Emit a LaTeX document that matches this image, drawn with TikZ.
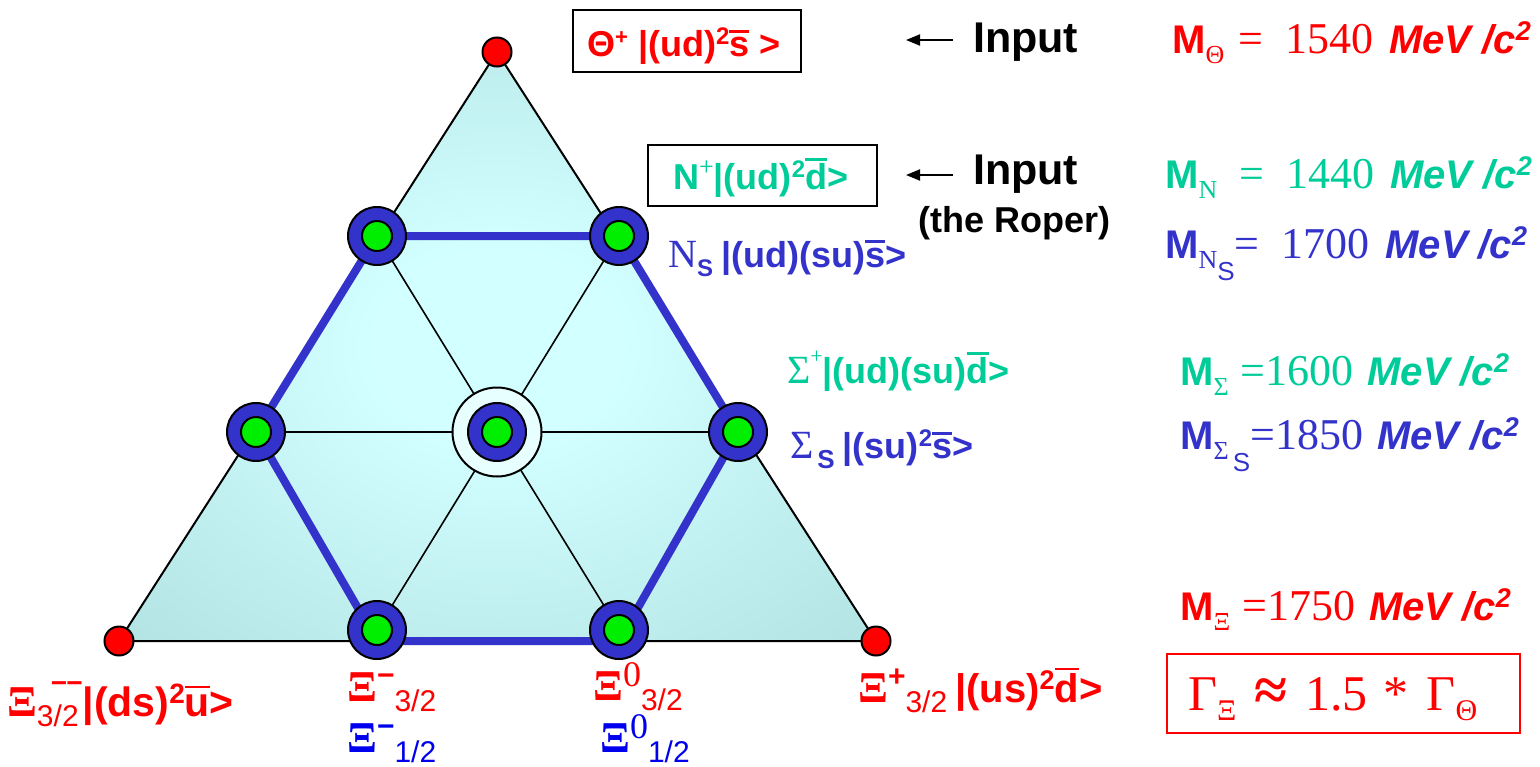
\documentclass[tikz,border=0pt]{standalone}
\usepackage{fontspec}
\setmainfont{Liberation Serif}
\newfontfamily\ar{Liberation Sans}
\newfontfamily\tm{Liberation Serif}
\usetikzlibrary{arrows.meta}
\definecolor{myred}{HTML}{FF0000}
\definecolor{myteal}{HTML}{00CC99}
\definecolor{myblue}{HTML}{3333CC}
\definecolor{pureblue}{HTML}{0000EE}
\definecolor{nodegreen}{HTML}{00EE00}
\definecolor{triin}{HTML}{D2FFFF}
\definecolor{trimid}{HTML}{B2E2E2}
\definecolor{triout}{HTML}{A6D8D8}
\definecolor{ringwhite}{HTML}{E8FFFF}
\newcommand\fs[1]{\fontsize{#1}{#1}\selectfont}
\newcommand\obar[2][3pt]{\vbox{\hrule height 2.5pt\kern#1\hbox{#2}}}
\newcommand\sqr[2]{\raisebox{#1}{\fs{#2}2}}
\pgfdeclareradialshading{trishade}{\pgfpoint{0bp}{0bp}}{color(0bp)=(triin); color(8bp)=(triin); color(36bp)=(trimid); color(50bp)=(triout)}
\begin{document}
\begin{tikzpicture}[x=1pt,y=-1pt,
  bnode/.style={circle,fill=myblue,draw=black,line width=2pt,minimum size=58pt,inner sep=0pt,
    path picture={\draw[fill=nodegreen,line width=2pt] (path picture bounding box.center) circle[radius=15pt];}},
  rdot/.style={circle,fill=myred,draw=black,line width=2pt,minimum size=29pt,inner sep=0pt},
  ringnode/.style={circle,fill=ringwhite,draw=black,line width=2pt,minimum size=89pt,inner sep=0pt},
  gridline/.style={line width=1.6pt,black},
  hexline/.style={line width=8pt,myblue,line join=round},
  lbl/.style={anchor=base west,inner sep=0pt},
  boxnode/.style={draw=black,line width=1.6pt,inner sep=0pt},
  arr/.style={line width=2pt,-{Triangle[length=14pt,width=11pt]}}]
\useasboundingbox (0,0) rectangle (1540,766);
\fill[white] (0,0) rectangle (1540,766);
% triangle
\coordinate (T) at (497,52);
\coordinate (L) at (119,641);
\coordinate (R) at (876,641);
\shade[shading=trishade] (T) -- (L) -- (R) -- cycle;
% grid
\coordinate (g11) at (377,236);
\coordinate (g12) at (619,236);
\coordinate (g21) at (256,432);
\coordinate (g22) at (497,432);
\coordinate (g23) at (738,432);
\coordinate (g31) at (377,630);
\coordinate (g32) at (619,630);
\coordinate (e31) at (377,641);
\coordinate (e32) at (619,641);
\draw[gridline] (g21) -- (g23);
\draw[gridline] (g11) -- (g32);
\draw[gridline] (g12) -- (g31);
\draw[line width=2pt] (T) -- (L) -- (R) -- cycle;
\draw[hexline] (g11) -- (g12) -- (g23) -- (e32) -- (e31) -- (g21) -- cycle;
% nodes
\node[ringnode] (ring) at (g22) {};
\node[bnode] (n11) at (g11) {};
\node[bnode] (n12) at (g12) {};
\node[bnode] (n21) at (g21) {};
\node[bnode] (n22) at (g22) {};
\node[bnode] (n23) at (g23) {};
\node[bnode] (n31) at (g31) {};
\node[bnode] (n32) at (g32) {};
\node[rdot] (vT) at (T) {};
\node[rdot] (vL) at (L) {};
\node[rdot] (vR) at (R) {};
% top box
\node[boxnode,minimum width=228pt,minimum height=62pt] (thbox) at (687,41) {};
\node[lbl,text=myred] (thtxt) at (587,56) {\ar\bfseries\fs{36}Θ\raisebox{12pt}{\fs{22}+} |(ud)\sqr{12pt}{24}\obar[4pt]{s} >};
\coordinate (a1s) at (953,40);
\coordinate (a1e) at (906,40);
\draw[arr] (a1s) -- (a1e);
\node[lbl] (in1) at (973,52) {\ar\bfseries\fs{43}Input};
\node[lbl,text=myred] (mth) at (1172,53) {\ar\bfseries\fs{40}M\raisebox{-10pt}{\tm\mdseries\fs{26}Θ}\hspace{14pt}{\tm\mdseries\fs{44}=\hspace{22pt}1540}\hspace{16pt}{\itshape MeV /c\sqr{13pt}{27}}};
% N box
\node[boxnode,minimum width=229pt,minimum height=61pt] (nbox) at (762.5,175.5) {};
\node[lbl,text=myteal] (ntxt) at (673,189) {\ar\bfseries\fs{36}N\raisebox{14pt}{\tm\mdseries\fs{26}+}|(ud)\sqr{12pt}{24}\obar[2pt]{d}>};
\coordinate (a2s) at (953,175);
\coordinate (a2e) at (906,175);
\draw[arr] (a2s) -- (a2e);
\node[lbl] (in2) at (973,184) {\ar\bfseries\fs{43}Input};
\node[lbl] (roper) at (918,232) {\ar\bfseries\fs{36}(the Roper)};
\node[lbl,text=myblue] (nslbl) at (668,267) {{\tm\fs{40}N}\raisebox{-9pt}{\ar\bfseries\fs{24}S}\hspace{8pt}{\ar\bfseries\fs{36}|(ud)(su)\obar[5pt]{s}>}};
\node[lbl,text=myteal] (mn) at (1165,188) {\ar\bfseries\fs{40}M\raisebox{-10pt}{\tm\mdseries\fs{26}N}\hspace{22pt}{\tm\mdseries\fs{44}=\hspace{22pt}1440}\hspace{16pt}{\itshape MeV /c\sqr{13pt}{27}}};
\node[lbl,text=myblue] (mns) at (1165,258) {\ar\bfseries\fs{40}M\raisebox{-10pt}{\tm\mdseries\fs{26}N\raisebox{-12pt}{\ar\fs{26}S}}{\tm\mdseries\fs{44}=\hspace{22pt}1700}\hspace{16pt}{\itshape MeV /c\sqr{13pt}{27}}};
% Sigma
\node[lbl,text=myteal] (sglbl) at (787,383) {{\tm\fs{40}Σ}\raisebox{20pt}{\tm\fs{22}+}{\ar\bfseries\fs{36}|(ud)(su)\obar[2pt]{d}>}};
\node[lbl,text=myblue] (sgslbl) at (790,458) {{\tm\fs{40}Σ}\hspace{4pt}\raisebox{-10pt}{\ar\bfseries\fs{26}S}\hspace{8pt}{\ar\bfseries\fs{36}|(su)\sqr{12pt}{24}\obar[4pt]{s}>}};
\node[lbl,text=myteal] (msg) at (1180,385) {\ar\bfseries\fs{40}M\raisebox{-10pt}{\tm\mdseries\fs{26}Σ}\hspace{12pt}{\tm\mdseries\fs{44}=1600}\hspace{14pt}{\itshape MeV /c\sqr{13pt}{27}}};
\node[lbl,text=myblue] (msgs) at (1180,449) {\ar\bfseries\fs{40}M\raisebox{-10pt}{\tm\mdseries\fs{26}Σ\raisebox{-12pt}{\ar\fs{26}\,S}}{\tm\mdseries\fs{44}=1850}\hspace{14pt}{\itshape MeV /c\sqr{13pt}{27}}};
\node[lbl,text=myred] (mxi) at (1180,620) {\ar\bfseries\fs{40}M\raisebox{-10pt}{\tm\mdseries\fs{26}Ξ}\hspace{12pt}{\tm\mdseries\fs{44}=1750}\hspace{14pt}{\itshape MeV /c\sqr{13pt}{27}}};
% Gamma box
\node[boxnode,draw=myred,line width=2pt,minimum width=353pt,minimum height=79pt] (gbox) at (1343.5,693.5) {};
\node[lbl,text=myred] (gtxt) at (1188,710) {\tm\fs{50}Γ\raisebox{-10pt}{\fs{30}Ξ}\hspace{18pt}{\bfseries\fs{60}≈}\hspace{18pt}1.5\hspace{16pt}*\hspace{18pt}Γ\raisebox{-10pt}{\fs{30}Θ}};
% bottom labels
\node[lbl,text=myred] (xmm) at (7,716) {{\tm\bfseries\fs{44}Ξ}\rlap{\raisebox{24pt}{\ar\bfseries\fs{28}\hspace{14pt}−\hspace{-1pt}−}}\raisebox{-10pt}{\ar\fs{30}3/2}\hspace{4pt}{\ar\bfseries\fs{41}|(ds)\sqr{13pt}{28}\obar[6pt]{u}>}};
\node[lbl,text=myred] (xm3) at (347,701) {{\tm\bfseries\fs{44}Ξ}\raisebox{16pt}{\ar\bfseries\fs{30}−}\raisebox{-10pt}{\ar\fs{30}3/2}};
\node[lbl,text=pureblue] (xm1) at (347,752) {{\tm\bfseries\fs{44}Ξ}\raisebox{16pt}{\ar\bfseries\fs{30}−}\raisebox{-10pt}{\ar\fs{30}1/2}};
\node[lbl,text=myred] (x03) at (593,700) {{\tm\bfseries\fs{44}Ξ}\raisebox{14pt}{\tm\fs{36}0}\raisebox{-10pt}{\ar\fs{30}3/2}};
\node[lbl,text=pureblue] (x01) at (600,752) {{\tm\bfseries\fs{44}Ξ}\raisebox{14pt}{\tm\fs{36}0}\raisebox{-10pt}{\ar\fs{30}1/2}};
\node[lbl,text=myred] (xp) at (858,702) {{\tm\bfseries\fs{44}Ξ}\raisebox{16pt}{\ar\bfseries\fs{30}+}\raisebox{-10pt}{\ar\fs{30}3/2}\hspace{8pt}{\ar\bfseries\fs{40}|(us)\sqr{13pt}{27}\obar[3pt]{d}>}};
\end{tikzpicture}
\end{document}
